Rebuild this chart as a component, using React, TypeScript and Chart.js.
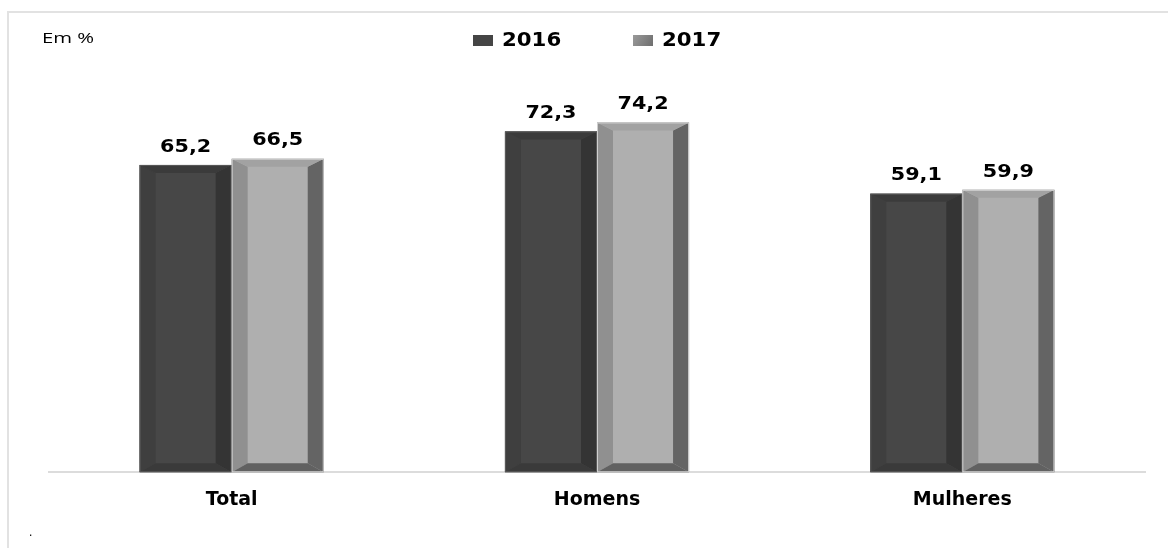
import React, { useEffect, useRef } from "react";
import { Chart, registerables } from "chart.js";

Chart.register(...registerables);

const categories = ["Total", "Homens", "Mulheres"];
const seriesLabels = ["2016", "2017"];
const values2016 = [65.2, 72.3, 59.1];
const values2017 = [66.5, 74.2, 59.9];
const unitLabel = "Em %";

const faceColors = ["#474747", "#afafaf"];
const bevelColors = [
  { left: "#3f3f3f", right: "#343434", top: "#3b3b3b", bottom: "#3a3a3a", edge: "#5a5a5a" },
  { left: "#909090", right: "#646464", top: "#a2a2a2", bottom: "#616161", edge: "#cfcfcf" },
];

const fmt = (v: number) => v.toFixed(1).replace(".", ",");

function drawStretched(ctx: CanvasRenderingContext2D, text: string, cx: number, cy: number, font: string, sx: number, align: CanvasTextAlign = "center") {
  ctx.save();
  ctx.font = font;
  ctx.textAlign = align;
  ctx.textBaseline = "middle";
  ctx.translate(cx, cy);
  ctx.scale(sx, 1);
  ctx.fillText(text, 0, 0);
  ctx.restore();
}

const bevelPlugin = {
  id: "bevelBars",
  afterDatasetsDraw(chart: any) {
    const ctx: CanvasRenderingContext2D = chart.ctx;
    chart.data.datasets.forEach((ds: any, di: number) => {
      const meta = chart.getDatasetMeta(di);
      const c = bevelColors[di];
      meta.data.forEach((bar: any, i: number) => {
        const { x, y, base, width } = bar.getProps(["x", "y", "base", "width"], true);
        const l = x - width / 2;
        const r = x + width / 2;
        const t = y;
        const b = base;
        const bw = 16;
        const bt = 8;
        const bb = 9;
        const poly = (pts: number[][], color: string) => {
          ctx.beginPath();
          ctx.moveTo(pts[0][0], pts[0][1]);
          for (let k = 1; k < pts.length; k++) ctx.lineTo(pts[k][0], pts[k][1]);
          ctx.closePath();
          ctx.fillStyle = color;
          ctx.fill();
        };
        ctx.save();
        poly([[l, t], [l + bw, t + bt], [l + bw, b - bb], [l, b]], c.left);
        poly([[r, t], [r, b], [r - bw, b - bb], [r - bw, t + bt]], c.right);
        poly([[l, t], [r, t], [r - bw, t + bt], [l + bw, t + bt]], c.top);
        poly([[l, b], [l + bw, b - bb], [r - bw, b - bb], [r, b]], c.bottom);
        ctx.strokeStyle = c.edge;
        ctx.lineWidth = 1;
        ctx.strokeRect(l + 0.5, t + 0.5, width - 1, b - t - 1);
        ctx.restore();
        ctx.save();
        ctx.fillStyle = "#000";
        drawStretched(ctx, fmt(ds.data[i]), x, t - 18, "bold 18px 'DejaVu Sans'", 1.15);
        ctx.restore();
      });
    });
  },
  afterDraw(chart: any) {
    const ctx: CanvasRenderingContext2D = chart.ctx;
    ctx.save();
    ctx.fillStyle = "#000";
    drawStretched(ctx, unitLabel, 42, 39, "14px 'Open Sans'", 1.45, "left");
    const legendX = [473, 633];
    chart.data.datasets.forEach((ds: any, di: number) => {
      const bx = legendX[di];
      if (di === 0) {
        ctx.fillStyle = "#454545";
        ctx.fillRect(bx, 35, 20, 11);
      } else {
        const g = ctx.createLinearGradient(bx, 35, bx + 20, 46);
        g.addColorStop(0, "#9a9a9a");
        g.addColorStop(1, "#6e6e6e");
        ctx.fillStyle = g;
        ctx.fillRect(bx, 35, 20, 11);
      }
      ctx.fillStyle = "#000";
      drawStretched(ctx, ds.label, bx + 29, 41, "bold 19px 'DejaVu Sans'", 1.12, "left");
    });
    ctx.fillText(".", 29, 536);
    ctx.restore();
  },
};

export default function App() {
  const ref = useRef<HTMLCanvasElement | null>(null);
  useEffect(() => {
    if (!ref.current) return;
    const chart = new Chart(ref.current, {
      type: "bar",
      data: {
        labels: categories,
        datasets: [
          { label: seriesLabels[0], data: values2016, backgroundColor: faceColors[0], borderWidth: 0 },
          { label: seriesLabels[1], data: values2017, backgroundColor: faceColors[1], borderWidth: 0 },
        ],
      },
      options: {
        animation: false,
        responsive: false,
        maintainAspectRatio: false,
        devicePixelRatio: 1,
        layout: { padding: { left: 49, right: 23, top: 48, bottom: 21 } },
        datasets: { bar: { categoryPercentage: 0.504, barPercentage: 1 } },
        plugins: { legend: { display: false }, tooltip: { enabled: false } },
        scales: {
          x: {
            grid: { display: false, drawTicks: false },
            border: { display: true, color: "#dcdcdc", width: 2 },
            ticks: {
              color: "#000",
              padding: 16,
              font: { family: "'DejaVu Sans'", size: 19, weight: "bold" },
            },
          },
          y: {
            display: false,
            min: 0,
            max: 90,
          },
        },
      },
      plugins: [bevelPlugin],
    });
    return () => chart.destroy();
  }, []);
  return (
    <div style={{ position: "fixed", left: 0, top: 0, width: 1168, height: 548, background: "#fff", overflow: "hidden" }}>
      <div style={{ position: "absolute", left: 7, top: 11, width: 1300, height: 700, borderLeft: "2px solid #e2e2e2", borderTop: "2px solid #e2e2e2" }} />
      <canvas ref={ref} width={1168} height={548} style={{ position: "absolute", left: 0, top: 0, width: 1168, height: 548 }} />
    </div>
  );
}
